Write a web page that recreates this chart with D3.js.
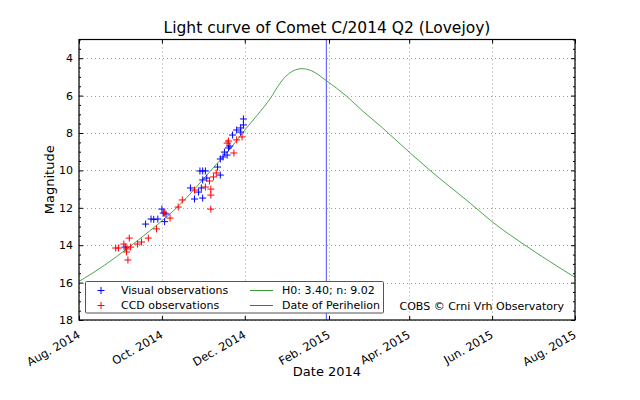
<!DOCTYPE html>
<html><head><meta charset="utf-8">
<script src="https://cdn.jsdelivr.net/npm/d3@7"></script>
<style>
body{margin:0;background:#fff;}
text{font-family:"DejaVu Sans",sans-serif;fill:#000;}
</style></head>
<body><svg id="c" width="640" height="400"></svg>
<script>
// ---- data ----
const visualDates = ["2014-09-04","2014-09-19","2014-09-23","2014-09-25","2014-09-28","2014-10-01","2014-10-02","2014-10-04","2014-10-03",
  "2014-10-22","2014-10-25","2014-10-28","2014-10-30","2014-10-31","2014-10-29","2014-10-31","2014-11-02","2014-10-31","2014-11-03",
  "2014-11-11","2014-11-13","2014-11-13","2014-11-15","2014-11-16","2014-11-18","2014-11-19","2014-11-20","2014-11-22","2014-11-25",
  "2014-11-28","2014-11-28","2014-11-30","2014-11-30"];
const visualMags = [14.10,12.87,12.60,12.62,12.60,12.07,12.28,12.33,12.74,
  10.94,11.53,11.16,10.94,11.48,10.03,10.03,10.03,10.51,10.41,
  9.82,10.25,9.39,9.28,9.02,9.18,8.80,8.70,8.11,7.84,
  7.73,7.95,7.57,7.25];
const ccdDates = ["2014-08-28","2014-08-30","2014-09-03","2014-09-05","2014-09-05","2014-09-06","2014-09-07","2014-09-08","2014-09-13",
  "2014-09-16","2014-09-21","2014-09-27","2014-10-03","2014-10-07","2014-10-13","2014-10-16","2014-10-25","2014-11-02","2014-11-05",
  "2014-11-06","2014-11-06","2014-11-06","2014-11-08","2014-11-10","2014-11-18","2014-11-19","2014-11-23","2014-11-25","2014-11-29"];
const ccdMags = [14.15,14.15,13.94,14.20,14.36,14.79,13.62,14.10,13.94,
  13.83,13.62,13.13,12.28,12.55,11.96,11.58,11.05,10.89,10.57,
  11.00,11.32,12.07,10.35,10.14,8.54,8.43,9.07,8.37,8.21];
const modelDates = ["2014-08-01","2014-08-20","2014-09-06","2014-09-22","2014-10-14","2014-11-05","2014-11-24","2014-12-01","2014-12-10",
  "2014-12-20","2014-12-27","2015-01-03","2015-01-12","2015-01-19","2015-01-30","2015-02-14","2015-02-26","2015-03-11","2015-04-02",
  "2015-04-16","2015-05-16","2015-06-02","2015-06-24","2015-08-01"];
const modelMags = [15.94,15.06,14.15,13.24,11.85,10.09,8.50,7.84,7.06,
  6.13,5.33,4.79,4.56,4.67,5.20,6.04,6.84,7.64,9.09,
  9.98,11.76,12.80,13.94,15.72];
const perihelionDate = "2015-01-30";
const xTickDates = ["2014-08-01","2014-10-01","2014-12-01","2015-02-01","2015-04-01","2015-06-01","2015-08-01"];
const xTickLabels = ["Aug. 2014","Oct. 2014","Dec. 2014","Feb. 2015","Apr. 2015","Jun. 2015","Aug. 2015"];
const yTicks = [4,6,8,10,12,14,16,18];
const legendLabels = ["Visual observations","CCD observations","H0: 3.40; n: 9.02","Date of Perihelion"];
const titleText = "Light curve of Comet C/2014 Q2 (Lovejoy)";
const xLabel = "Date 2014", yLabel = "Magnitude", creditText = "COBS \u00a9 Crni Vrh Observatory";

// ---- chart ----
const parse = d3.timeParse("%Y-%m-%d");
const L=79, R=575, T=39.5, B=320;
const svg = d3.select("#c");
const x = d3.scaleTime().domain([parse("2014-08-01"), parse("2015-08-01")]).range([L,R]);
const y = d3.scaleLinear().domain([3,18]).range([T,B]);
const minorY = d3.range(3,18.01,0.5).filter(v=>!yTicks.includes(v));

// grid
const grid = svg.append("g").attr("stroke","#a0a0a0").attr("stroke-dasharray","1,3").attr("stroke-width",1);
xTickDates.forEach(d=>{const px=Math.round(x(parse(d)))+0.5; grid.append("line").attr("x1",px).attr("x2",px).attr("y1",T).attr("y2",B);});
yTicks.forEach(v=>{const py=Math.round(y(v))+0.5; grid.append("line").attr("x1",L).attr("x2",R).attr("y1",py).attr("y2",py);});

// clip
svg.append("clipPath").attr("id","clip").append("rect").attr("x",L).attr("y",T).attr("width",R-L).attr("height",B-T);
const plot = svg.append("g").attr("clip-path","url(#clip)");

// perihelion line
const ph = x(parse(perihelionDate));
plot.append("line").attr("x1",ph).attr("x2",ph).attr("y1",T).attr("y2",B).attr("stroke","#4d4dff").attr("stroke-width",1);

// model curve
const model = modelDates.map((d,i)=>[parse(d),modelMags[i]]);
plot.append("path").datum(model)
  .attr("d", d3.line().x(d=>x(d[0])).y(d=>y(d[1])).curve(d3.curveMonotoneX))
  .attr("fill","none").attr("stroke","#3a9a3a").attr("stroke-width",0.9);

// markers
const cross = "M-3.5,0H3.5M0,-3.5V3.5";
function drawPts(dates, mags, color){
  plot.append("g").selectAll("path").data(dates.map((d,i)=>[parse(d),mags[i]])).join("path")
    .attr("d",cross).attr("transform",d=>`translate(${x(d[0])},${y(d[1])})`)
    .attr("stroke",color).attr("stroke-width",1).attr("fill","none");
}
drawPts(visualDates, visualMags, "#0000ff");
drawPts(ccdDates, ccdMags, "#ff0000");

// axes (ticks inward)
const gB = svg.append("g").attr("transform",`translate(0,${B})`)
  .call(d3.axisBottom(x).tickValues(xTickDates.map(parse)).tickFormat((d,i)=>xTickLabels[i]).tickSize(-4).tickPadding(0));
gB.select(".domain").remove();
gB.selectAll("text").attr("text-anchor","end").attr("font-size",11.5).attr("font-family","DejaVu Sans")
  .attr("y",null).attr("dy",null)
  .attr("transform","translate(1.5,17) rotate(-30)");
const gT = svg.append("g").attr("transform",`translate(0,${T})`)
  .call(d3.axisTop(x).tickValues(xTickDates.map(parse)).tickFormat("").tickSize(-4));
gT.select(".domain").remove();
const gL = svg.append("g").attr("transform",`translate(${L},0)`)
  .call(d3.axisLeft(y).tickValues(yTicks).tickSize(-4).tickPadding(6));
gL.select(".domain").remove();
gL.selectAll("text").attr("font-size",11).attr("font-family","DejaVu Sans").attr("x",-6);
gL.selectAll(".tick line").attr("x2",4);
const gLm = svg.append("g").attr("transform",`translate(${L},0)`)
  .call(d3.axisLeft(y).tickValues(minorY).tickFormat("").tickSize(-2));
gLm.select(".domain").remove();
const gR = svg.append("g").attr("transform",`translate(${R},0)`)
  .call(d3.axisRight(y).tickValues(yTicks).tickFormat("").tickSize(-4));
gR.select(".domain").remove();
const gRm = svg.append("g").attr("transform",`translate(${R},0)`)
  .call(d3.axisRight(y).tickValues(minorY).tickFormat("").tickSize(-2));
gRm.select(".domain").remove();
svg.selectAll(".tick line").attr("stroke","#000");

// frame
svg.append("rect").attr("x",L).attr("y",T).attr("width",R-L).attr("height",B-T)
  .attr("fill","none").attr("stroke","#000").attr("stroke-width",1.2);

// legend
const lg = svg.append("g");
lg.append("rect").attr("x",85.5).attr("y",281.5).attr("width",298).attr("height",31.5)
  .attr("fill","#fff").attr("stroke","#555").attr("stroke-width",1).attr("rx",1);
const rows=[290.5,305.5];
lg.append("path").attr("d",cross).attr("transform",`translate(101,${rows[0]})`).attr("stroke","#0000ff");
lg.append("path").attr("d",cross).attr("transform",`translate(101,${rows[1]})`).attr("stroke","#ff0000");
lg.append("line").attr("x1",250).attr("x2",273).attr("y1",rows[0]).attr("y2",rows[0]).attr("stroke","#3a9a3a");
lg.append("line").attr("x1",250).attr("x2",273).attr("y1",rows[1]).attr("y2",rows[1]).attr("stroke","#4d4dff");
[[121,rows[0],0],[121,rows[1],1],[282,rows[0],2],[282,rows[1],3]].forEach(([tx,ty,i])=>{
  lg.append("text").attr("x",tx).attr("y",ty).attr("dy","0.36em").attr("font-size",11).text(legendLabels[i]);
});

// credit
svg.append("text").attr("x",564).attr("y",306).attr("dy","0.36em").attr("text-anchor","end").attr("font-size",11).text(creditText);

// titles
svg.append("text").attr("x",(L+R)/2).attr("y",33).attr("text-anchor","middle").attr("font-size",15.5).text(titleText);
svg.append("text").attr("x",(L+R)/2).attr("y",376).attr("text-anchor","middle").attr("font-size",13).text(xLabel);
svg.append("text").attr("transform",`translate(54,${(T+B)/2}) rotate(-90)`).attr("text-anchor","middle").attr("font-size",13).text(yLabel);
</script></body></html>
